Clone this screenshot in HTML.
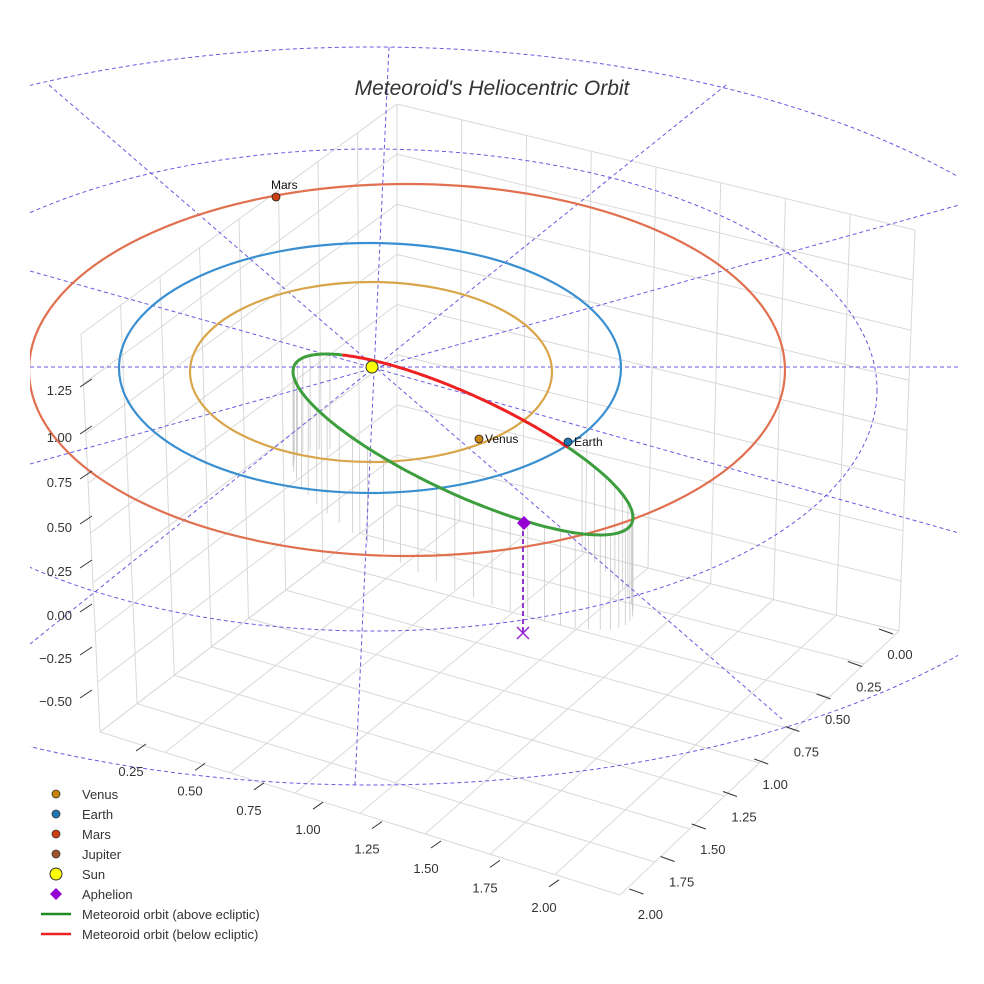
<!DOCTYPE html>
<html><head><meta charset="utf-8"><style>
body{margin:0;background:#fff}
svg{display:block;font-family:"Liberation Sans",sans-serif}
</style></head><body>
<svg id="chart" width="984" height="984" viewBox="0 0 984 984">
<defs><clipPath id="clip"><rect x="30" y="0" width="928" height="984"/></clipPath></defs>
<rect width="984" height="984" fill="#fff"/>
<g id="grid" stroke="#d9d9d9" stroke-width="1" fill="none"></g>
<g id="drops" stroke="#c8c8c8" stroke-width="0.8"></g>
<g id="ref" clip-path="url(#clip)" stroke="#6a5ae0" stroke-width="1" stroke-dasharray="4,3" fill="none"></g>
<g id="orbits" clip-path="url(#clip)" fill="none"></g>
<g id="marks"></g>
<g id="axes" font-size="13" fill="#333"></g>
<text x="492" y="95" text-anchor="middle" font-size="21" font-style="italic" fill="#333">Meteoroid's Heliocentric Orbit</text>
<g id="legend" font-size="13" fill="#333"></g>
</svg>
<script>
// data
const planetNames = ["Venus","Earth","Mars"];
const orbitRx = [181, 251, 378];
const orbitRy = [90, 125, 186];
const orbitCx = [371, 370, 407];
const orbitCy = [372, 368, 370];
const orbitColors = ["#d9a54a","#3a8fd0","#e07050"];
const planetX = [479, 568, 276];
const planetY = [439, 442, 197];
const planetColors = ["#c8830f","#1f77b4","#cc3f10"];
const zTicks = ["1.25","1.00","0.75","0.50","0.25","0.00","\u22120.25","\u22120.50"];
const zTickY = [390,437,482,527,571,615,658,701];
const xTicks = ["0.25","0.50","0.75","1.00","1.25","1.50","1.75","2.00"];
const yTicks = ["0.00","0.25","0.50","0.75","1.00","1.25","1.50","1.75","2.00"];
// meteoroid orbit (projected ellipse parameters)
const metCenter = [463, 444.5];
const metXAmp = [170];
const metYCos = [72.9];
const metYSin = [53.6];
const redRange = [-2.36, -0.905];

const NS="http://www.w3.org/2000/svg";
function mk(parent,tag,attrs){const e=document.createElementNS(NS,tag);for(const k in attrs)e.setAttribute(k,attrs[k]);document.getElementById(parent).appendChild(e);return e;}

// grid box (bilinear faces)
const B=[397,505],L=[100,732],R=[899,631],F=[620,895],Bt=[397,104],Lt=[81,334],Rt=[915,230];
function bil(p00,p10,p01,p11,u,v){return [0,1].map(k=>p00[k]*(1-u)*(1-v)+p10[k]*u*(1-v)+p01[k]*(1-u)*v+p11[k]*u*v);}
function gl(a,b){const e=mk('grid','line',{x1:a[0],y1:a[1],x2:b[0],y2:b[1]});

}
const N=8;
for(let i=0;i<=N;i++){const t=i/N;
 gl(bil(B,L,R,F,t,0),bil(B,L,R,F,t,1));
 gl(bil(B,L,R,F,0,t),bil(B,L,R,F,1,t));
 gl(bil(B,L,Bt,Lt,t,0),bil(B,L,Bt,Lt,t,1));
 gl(bil(B,R,Bt,Rt,t,0),bil(B,R,Bt,Rt,t,1));
 gl(bil(B,L,Bt,Lt,0,t),bil(B,L,Bt,Lt,1,t));
 gl(bil(B,R,Bt,Rt,0,t),bil(B,R,Bt,Rt,1,t));
}

// reference dashed
[[49,85,782,719],[389,47,355,785],[726,85,30,644],[30,271,959,533],[30,464,959,205],[30,367,959,367]].forEach(l=>{const e=mk('ref','line',{x1:l[0],y1:l[1],x2:l[2],y2:l[3]});

});
[[372,390,505,241],[372,416,770,369]].forEach(c=>{const e=mk('ref','ellipse',{cx:c[0],cy:c[1],rx:c[2],ry:c[3]});

});

// planet orbits
for(let i=0;i<planetNames.length;i++){
 const e=mk('orbits','ellipse',{cx:orbitCx[i],cy:orbitCy[i],rx:orbitRx[i],ry:orbitRy[i],stroke:orbitColors[i],'stroke-width':2.2});
 
 
}
// meteoroid orbit
function mp(t){return [metCenter[0]+metXAmp[0]*Math.cos(t), metCenter[1]+metYCos[0]*Math.cos(t)+metYSin[0]*Math.sin(t)];}
function arc(a,b){let d='';const n=120;for(let k=0;k<=n;k++){const p=mp(a+(b-a)*k/n);d+=(k?'L':'M')+p[0].toFixed(1)+','+p[1].toFixed(1);}return d;}
// drop lines from above-ecliptic part
for(let k=1;k<44;k++){const t=redRange[1]+(redRange[0]+2*Math.PI-redRange[1])*k/44;const p=mp(t);
 const e=mk('drops','line',{x1:p[0],y1:p[1],x2:p[0],y2:p[1]+95});
 
 }
let e=mk('orbits','path',{d:arc(redRange[1],redRange[0]+2*Math.PI),stroke:'#3d9e3d','stroke-width':3});


e=mk('orbits','path',{d:arc(redRange[0],redRange[1]),stroke:'#ee2222','stroke-width':3});



// aphelion
e=mk('marks','line',{x1:523,y1:523,x2:523,y2:633,stroke:'#8a1fc8','stroke-width':1.8,'stroke-dasharray':'5,3'});


e=mk('marks','path',{d:'M517,627L529,639M529,627L517,639',stroke:'#9a2ad0','stroke-width':1.5});


e=mk('marks','path',{d:'M524,516L531,523L524,530L517,523Z',fill:'#9400d3'});


// sun
e=mk('marks','circle',{cx:372,cy:367,r:6,fill:'#ffff00',stroke:'#333','stroke-width':1});


// planets
for(let i=0;i<planetNames.length;i++){
 e=mk('marks','circle',{cx:planetX[i],cy:planetY[i],r:4,fill:planetColors[i],stroke:'#222','stroke-width':0.8});
 
 
 const lbl=mk('marks','text',{x:i==2?planetX[i]-5:planetX[i]+6,y:i==2?planetY[i]-8:planetY[i]+4,'font-size':12,fill:'#111'});
 lbl.textContent=planetNames[i];
 
 
}

// axes
zTicks.forEach((t,i)=>{const y=zTickY[i];
 e=mk('axes','text',{x:72,y:y+5,'text-anchor':'end'});e.textContent=t;
 
 
 e=mk('axes','line',{x1:80,y1:y-3,x2:92,y2:y-11,stroke:'#333'});
 
 });
xTicks.forEach((t,i)=>{const x=131+i*59,y=771+i*19.4;
 e=mk('axes','text',{x:x,y:y+5,'text-anchor':'middle'});e.textContent=t;
 
 
 e=mk('axes','line',{x1:x+5,y1:y-20,x2:x+15,y2:y-27,stroke:'#333'});
 
 });
yTicks.forEach((t,i)=>{const x=900-i*31.2,y=654+i*32.5;
 e=mk('axes','text',{x:x,y:y+5,'text-anchor':'middle'});e.textContent=t;
 
 
 e=mk('axes','line',{x1:x-21,y1:y-25,x2:x-7,y2:y-20,stroke:'#333'});
 
 });

// legend
const legendLabels=["Venus","Earth","Mars","Jupiter","Sun","Aphelion","Meteoroid orbit (above ecliptic)","Meteoroid orbit (below ecliptic)"];
const legendColors=["#c8830f","#1f77b4","#cc3f10","#a0522d","#ffff00","#9400d3","#228b22","#ee2222"];
legendLabels.forEach((l,i)=>{const y=795+i*20;
 let m;
 if(i<4) m=mk('legend','circle',{cx:56,cy:y-1,r:4,fill:legendColors[i],stroke:'#333','stroke-width':0.8});
 else if(i==4) m=mk('legend','circle',{cx:56,cy:y-1,r:6,fill:legendColors[i],stroke:'#333','stroke-width':1});
 else if(i==5) m=mk('legend','path',{d:`M56,${y-7}L62,${y-1}L56,${y+5}L50,${y-1}Z`,fill:legendColors[i]});
 else m=mk('legend','line',{x1:41,y1:y-1,x2:71,y2:y-1,stroke:legendColors[i],'stroke-width':2.5});
 
 
 const t=mk('legend','text',{x:82,y:y+4});t.textContent=l;
 
 
});
</script>
</body></html>
